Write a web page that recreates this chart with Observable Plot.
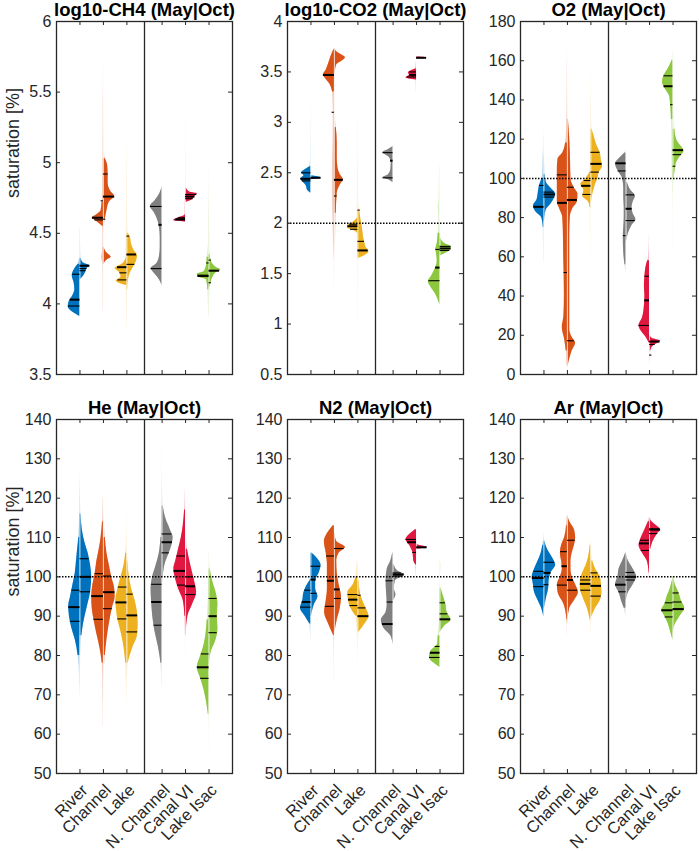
<!DOCTYPE html>
<html><head><meta charset="utf-8">
<script src="https://cdn.jsdelivr.net/npm/d3@7"></script>
<script src="https://cdn.jsdelivr.net/npm/@observablehq/plot@0.6"></script>
<style>
body{margin:0;background:#fff;}
#chart{position:relative;width:699px;height:851px;overflow:hidden;font-family:"Liberation Sans",Arial,Helvetica,sans-serif;}
#chart svg{position:absolute;}
</style></head><body><div id="chart"></div>
<script>
// ---------- categories ----------
const sites = ["River","Channel","Lake","N. Channel","Canal VI","Lake Isac"];
const sitePos = [1,2,3,4.5,5.5,6.5];
const dividerPos = 3.75;
const siteColors = ["#0072BD","#D95319","#EDB120","#808080","#E0173F","#8DC63F"];

// ---------- y axes ----------
const ch4Ticks = [3.5,4,4.5,5,5.5,6];
const co2Ticks = [0.5,1,1.5,2,2.5,3,3.5,4];
const o2Ticks = [0,20,40,60,80,100,120,140,160,180];
const gasTicks = [50,60,70,80,90,100,110,120,130,140];

// ---------- density profiles: [value, half-width] per site (May = left, Oct = right) ----------
const ch4May = [
 [[3.91,0],[3.94,0.3],[3.98,0.5],[4.02,0.45],[4.06,0.3],[4.1,0.22],[4.15,0.25],[4.2,0.33],[4.24,0.25],[4.28,0.08],[4.33,0.02]],
 [[3.95,0.01],[4.28,0.02],[4.31,0.06],[4.33,0.09],[4.36,0.05],[4.45,0.02],[4.55,0.04],[4.585,0.3],[4.61,0.47],[4.63,0.3],[4.66,0.1],[4.72,0.06],[4.8,0.03],[5.0,0.02],[5.4,0.01],[5.6,0]],
 [[3.83,0.005],[4.0,0.02],[4.13,0.03],[4.16,0.45],[4.19,0.25],[4.22,0.3],[4.25,0.5],[4.28,0.2],[4.32,0.05],[4.4,0.03],[4.6,0.02],[5.1,0.005]],
 [[4.13,0],[4.18,0.15],[4.22,0.35],[4.25,0.47],[4.28,0.25],[4.33,0.12],[4.4,0.08],[4.47,0.08],[4.55,0.12],[4.6,0.2],[4.65,0.35],[4.69,0.5],[4.73,0.3],[4.78,0.1],[4.83,0]],
 [[4.58,0.02],[4.59,0.5],[4.61,0.3],[4.62,0.1],[4.63,0.03],[4.7,0.02],[4.76,0.01]],
 [[3.9,0.01],[4.0,0.03],[4.1,0.05],[4.17,0.1],[4.19,0.45],[4.21,0.5],[4.23,0.2],[4.28,0.1],[4.33,0.08],[4.37,0.05],[4.45,0.02],[4.7,0.015],[4.97,0.005]]
];
const ch4Oct = [
 [[4.17,0],[4.19,0.12],[4.21,0.2],[4.23,0.25],[4.25,0.3],[4.27,0.42],[4.29,0.15],[4.32,0.05],[4.4,0.03],[4.54,0.01]],
 [[3.97,0.005],[4.28,0.02],[4.31,0.15],[4.33,0.33],[4.36,0.15],[4.4,0.03],[4.5,0.03],[4.6,0.08],[4.66,0.15],[4.72,0.25],[4.76,0.48],[4.8,0.3],[4.86,0.2],[4.92,0.2],[4.98,0.18],[5.03,0.08],[5.1,0.03],[5.4,0.02],[5.68,0.005]],
 [[3.83,0.01],[4.1,0.03],[4.2,0.1],[4.25,0.25],[4.3,0.4],[4.34,0.45],[4.38,0.3],[4.42,0.2],[4.47,0.15],[4.5,0.05],[4.6,0.03],[4.8,0.02],[5.15,0.005]],
 [],
 [[4.72,0.05],[4.74,0.3],[4.76,0.4],[4.78,0.5],[4.79,0.2],[4.82,0.03],[5.0,0.02],[5.3,0.005]],
 [[3.92,0.01],[4.05,0.03],[4.12,0.05],[4.16,0.1],[4.2,0.2],[4.22,0.3],[4.24,0.5],[4.26,0.3],[4.3,0.1],[4.35,0.05],[4.45,0.03],[4.6,0.02],[4.75,0.005]]
];
// quantile lines: first value = median (thick), rest thin
const ch4MayLines = [[4.03,3.985,4.21],[4.61,4.595,4.73],[4.26,4.17,4.22],[4.56,4.25,4.69],[4.60,4.595,4.61],[4.20,4.195,4.29]];
const ch4OctLines = [[4.27,4.235,4.25],[4.76,4.60,4.92],[4.35,4.28,4.48],[],[4.76,4.745,4.775],[4.235,4.15,4.31]];

const co2May = [
 [[2.3,0.02],[2.33,0.15],[2.37,0.2],[2.41,0.35],[2.44,0.43],[2.47,0.3],[2.5,0.4],[2.53,0.25],[2.56,0.05],[2.65,0.02],[3.15,0.005]],
 [[1.65,0.01],[1.9,0.05],[2.2,0.08],[2.5,0.09],[2.8,0.06],[3.1,0.05],[3.3,0.08],[3.38,0.2],[3.44,0.4],[3.47,0.47],[3.52,0.35],[3.58,0.25],[3.65,0.15],[3.72,0.03]],
 [[1.0,0.005],[1.5,0.01],[1.9,0.02],[1.93,0.2],[1.95,0.43],[1.98,0.43],[2.01,0.2],[2.05,0.03],[2.3,0.02],[2.6,0.02],[3.1,0.005]],
 [[2.4,0],[2.43,0.2],[2.45,0.43],[2.48,0.2],[2.53,0.1],[2.6,0.08],[2.65,0.15],[2.7,0.43],[2.73,0.2],[2.76,0]],
 [[3.3,0.01],[3.42,0.02],[3.44,0.45],[3.47,0.3],[3.49,0.35],[3.51,0.25],[3.53,0.05],[3.6,0.01]],
 [[1.2,0.02],[1.3,0.2],[1.37,0.4],[1.42,0.5],[1.48,0.35],[1.55,0.2],[1.62,0.12],[1.7,0.15],[1.74,0.18],[1.8,0.12],[1.9,0.08],[2.0,0.05],[2.1,0.06],[2.15,0.08],[2.25,0.04],[2.4,0.03],[2.57,0.01]]
];
const co2Oct = [
 [[2.43,0],[2.45,0.43],[2.47,0]],
 [[1.35,0.005],[1.6,0.02],[1.85,0.05],[2.1,0.08],[2.3,0.12],[2.38,0.25],[2.43,0.38],[2.48,0.25],[2.55,0.15],[2.65,0.12],[2.8,0.12],[2.95,0.08],[3.1,0.03],[3.3,0.03],[3.5,0.04],[3.57,0.1],[3.61,0.35],[3.64,0.47],[3.67,0.3],[3.7,0.1],[3.73,0.02]],
 [[1.0,0.005],[1.4,0.01],[1.65,0.02],[1.68,0.3],[1.72,0.47],[1.76,0.35],[1.8,0.3],[1.85,0.25],[1.9,0.22],[1.97,0.18],[2.05,0.12],[2.12,0.08],[2.2,0.03],[2.5,0.02],[2.6,0.005]],
 [],
 [[3.63,0],[3.64,0.43],[3.65,0]],
 [[1.68,0.05],[1.71,0.3],[1.74,0.47],[1.77,0.47],[1.8,0.2],[1.85,0.03],[2.0,0.01]]
];
const co2MayLines = [[2.44,2.42,2.5],[3.47,3.1],[1.97,1.94,1.99],[2.62,2.45,2.7],[3.47,3.45,3.5],[1.56,1.43,1.74]];
const co2OctLines = [[2.45],[2.43,2.27],[1.73,1.82,2.13],[],[3.64],[1.75,1.73,1.77]];

const o2May = [
 [[57,0.01],[65,0.02],[75,0.03],[80,0.1],[83,0.35],[86,0.45],[89,0.3],[92,0.25],[96,0.2],[100,0.08],[105,0.05],[110,0.04],[115,0.02],[125,0.005]],
 [[5,0.02],[12,0.05],[18,0.12],[24,0.22],[30,0.15],[40,0.13],[50,0.14],[60,0.16],[70,0.17],[80,0.2],[85,0.35],[88,0.43],[95,0.43],[105,0.43],[110,0.4],[113,0.2],[118,0.08],[125,0.04],[135,0.02],[160,0.005]],
 [[60,0.005],[75,0.02],[85,0.03],[88,0.1],[91,0.35],[94,0.3],[97,0.43],[100,0.2],[103,0.05],[110,0.02],[130,0.01],[157,0.005]],
 [[52,0.01],[56,0.05],[62,0.1],[70,0.12],[75,0.1],[80,0.08],[85,0.08],[90,0.1],[95,0.1],[100,0.15],[104,0.35],[107.5,0.45],[110,0.3],[113,0.05],[115,0]],
 [[16,0.02],[19,0.15],[22,0.35],[25,0.45],[29,0.3],[35,0.22],[40,0.2],[45,0.22],[50,0.2],[55,0.15],[58,0.08],[62,0.03],[72,0.005]],
 [[92,0.01],[100,0.03],[110,0.05],[120,0.05],[130,0.07],[137,0.1],[142,0.15],[146,0.35],[149,0.45],[152,0.4],[156,0.2],[160,0.05],[165,0.01]]
];
const o2Oct = [
 [[78,0.02],[84,0.1],[87,0.3],[90,0.45],[92,0.5],[95,0.3],[98,0.1],[102,0.05],[108,0.03],[112,0.01]],
 [[4,0.02],[8,0.1],[12,0.2],[16,0.35],[19,0.2],[23,0.1],[30,0.1],[50,0.1],[70,0.1],[80,0.12],[85,0.25],[88,0.42],[92,0.45],[95,0.3],[100,0.15],[110,0.13],[120,0.1],[130,0.04],[150,0.01],[165,0.005]],
 [[88,0.02],[93,0.1],[97,0.2],[100,0.3],[103,0.35],[106,0.5],[109,0.45],[113,0.4],[117,0.25],[121,0.15],[125,0.05],[135,0.02],[150,0.005]],
 [[68,0.02],[72,0.1],[76,0.25],[79,0.42],[82,0.3],[85,0.25],[88,0.3],[91,0.4],[94,0.2],[98,0.05],[102,0.02]],
 [[5,0.01],[9,0.05],[12,0.05],[15,0.2],[17,0.47],[18.5,0.1],[20,0.02]],
 [[65,0.005],[80,0.01],[95,0.02],[100,0.05],[105,0.1],[108,0.15],[111,0.3],[114,0.47],[117,0.3],[120,0.15],[125,0.08],[130,0.05],[135,0.03],[140,0.03],[150,0.01]]
];
const o2MayLines = [[85.5,96.4],[87.5,52,101.8],[96.2,91.8,98.9],[107.7,70.8,103.8],[37.8,25,50.1],[147,137.6,152.3]];
const o2OctLines = [[91.8,90.5,93],[89,17.2,95.5],[107.4,103.2,113.3],[84.5,78.5,91.6],[16.8,9.9,15.3],[114.4,106.2,112.1]];

const heMay = [
 [[70,0.01],[75,0.02],[80,0.08],[84,0.2],[87,0.35],[90,0.45],[92.5,0.48],[95,0.4],[98,0.3],[101,0.2],[104,0.15],[107,0.1],[110,0.05],[115,0.02],[120,0.01],[127,0.005]],
 [[62,0.01],[70,0.02],[78,0.05],[82,0.15],[86,0.3],[89,0.4],[92,0.48],[95,0.5],[98,0.45],[101,0.35],[104,0.28],[107,0.18],[110,0.1],[114,0.04],[120,0.01]],
 [[66,0.005],[72,0.02],[78,0.05],[82,0.12],[86,0.25],[89,0.38],[92,0.45],[94,0.47],[97,0.38],[100,0.25],[103,0.12],[106,0.05],[110,0.02],[117,0.005]],
 [[72,0.01],[78,0.05],[82,0.15],[86,0.3],[90,0.4],[94,0.45],[97,0.47],[100,0.4],[103,0.25],[106,0.12],[110,0.05],[115,0.02],[122,0.005]],
 [[85,0.01],[90,0.03],[94,0.1],[97,0.3],[100,0.45],[102,0.5],[104,0.42],[107,0.3],[110,0.18],[113,0.1],[117,0.04],[122,0.01]],
 [[56,0.005],[62,0.01],[65,0.03],[68,0.1],[71,0.2],[74,0.35],[77,0.5],[80,0.35],[83,0.2],[86,0.12],[89,0.08],[92,0.05],[96,0.02],[100,0.005]]
];
const heOct = [
 [[72,0.01],[80,0.03],[85,0.08],[88,0.15],[92,0.3],[96,0.45],[100,0.5],[103,0.45],[106,0.35],[109,0.2],[112,0.1],[116,0.04],[120,0.02],[125,0.005]],
 [[68,0.01],[75,0.03],[80,0.08],[84,0.15],[88,0.25],[92,0.38],[95,0.5],[97,0.48],[100,0.35],[103,0.25],[106,0.15],[110,0.08],[115,0.03],[120,0.01]],
 [[70,0.01],[78,0.05],[82,0.25],[85,0.45],[88,0.48],[91,0.45],[94,0.35],[97,0.2],[100,0.1],[104,0.04],[110,0.01]],
 [[90,0.01],[95,0.02],[100,0.05],[103,0.12],[106,0.3],[108,0.42],[110,0.47],[112,0.35],[115,0.15],[118,0.05],[122,0.02],[130,0.005],[135,0]],
 [[78,0.005],[85,0.02],[90,0.1],[93,0.3],[96,0.47],[98,0.42],[101,0.3],[104,0.18],[107,0.08],[110,0.03],[115,0.01],[124,0.005]],
 [[78,0.01],[81,0.1],[84,0.3],[87,0.38],[90,0.35],[93,0.38],[96,0.3],[99,0.15],[102,0.05],[106,0.01]]
];
const heMayLines = [[92.3,88.7,96.6],[95.1,89.2,100.8],[93.5,89.3,97.4],[93.6,87.7,98.1],[101.5,97.9,105.3],[77,74.2,80.4]];
const heOctLines = [[100,96.2,104.6],[96.1,91.9,100.2],[90.2,86,95.6],[108.8,106.1,110.9],[97.6,95.5,100],[90,85.8,94.5]];

const n2May = [
 [[84,0.01],[88,0.05],[90,0.25],[92,0.45],[94,0.35],[96,0.3],[97.5,0.2],[99,0.05],[101,0.01]],
 [[73,0.005],[80,0.01],[85,0.03],[88,0.25],[91,0.42],[94,0.35],[97,0.3],[100,0.3],[103,0.3],[106,0.35],[109,0.43],[111,0.3],[113,0.05]],
 [[77,0.005],[85,0.02],[90,0.08],[92,0.3],[94,0.4],[96,0.43],[98,0.2],[100,0.08],[102,0.05],[104,0.02]],
 [[83,0.01],[85,0.1],[87,0.4],[89,0.5],[91,0.3],[93,0.25],[96,0.28],[99,0.3],[102,0.25],[104,0.1],[106,0.02]],
 [[98,0.005],[103,0.03],[104,0.12],[106,0.15],[108,0.3],[109.5,0.45],[111,0.25],[112,0.05]],
 [[77,0.01],[78,0.25],[79.5,0.45],[81,0.4],[83,0.1],[85,0.08],[87,0.05],[90,0.01]]
];
const n2Oct = [
 [[90,0.02],[93,0.15],[95,0.3],[97,0.2],[99,0.2],[101,0.35],[103,0.43],[104.5,0.3],[106,0.05]],
 [[86,0.02],[89,0.12],[92,0.25],[95,0.3],[98,0.2],[101,0.12],[104,0.1],[106,0.2],[107.5,0.47],[109,0.1],[111,0.02]],
 [[82,0.01],[86,0.05],[88,0.3],[90,0.47],[92,0.35],[94,0.2],[96,0.1],[99,0.05],[103,0.01]],
 [[94,0.02],[95.5,0.12],[97,0.05],[99,0.1],[100.5,0.5],[101.5,0.2],[103,0.05]],
 [[107,0],[107.5,0.45],[108,0.1],[108.5,0]],
 [[86,0.02],[87.5,0.2],[89,0.47],[91,0.3],[93,0.25],[95,0.15],[97,0.05],[99,0.01],[101,0.03],[103,0.05],[104,0.01]]
];
const n2MayLines = [[93.6,92.3,96.6],[99,92.5,105.3],[94.2,92.7,95.5],[88,93.6,99],[108.8,106.2,109.5],[80.7,79.5,82.3]];
const n2OctLines = [[99.3,95.8,102.7],[96.8,94.5,107.2],[90,92.1,95.3],[100.6,100.2,101],[107.5],[89.2,90.6,93.4]];

const arMay = [
 [[90,0.01],[92,0.1],[94,0.25],[96,0.4],[98,0.45],[100,0.5],[102,0.4],[104,0.25],[106,0.12],[108,0.05],[110,0.01]],
 [[85,0.005],[89,0.02],[93,0.15],[96,0.4],[98,0.43],[100,0.3],[102,0.22],[104,0.25],[106,0.3],[108,0.25],[110,0.12],[113,0.04],[115,0.01]],
 [[85,0.005],[89,0.03],[92,0.15],[95,0.35],[97,0.45],[99,0.45],[101,0.35],[103,0.2],[105,0.1],[108,0.03],[110,0.005]],
 [[90,0.01],[92,0.08],[94,0.2],[96,0.3],[98,0.45],[100,0.35],[102,0.3],[104,0.15],[106,0.02]],
 [[98,0.005],[101,0.02],[104,0.1],[106,0.3],[108,0.45],[110,0.35],[112,0.2],[114,0.05],[115,0.01]],
 [[84,0.01],[86,0.1],[88,0.2],[90,0.35],[91.5,0.48],[93,0.35],[95,0.25],[97,0.12],[99,0.03],[100,0.005]]
];
const arOct = [
 [[92,0.02],[95,0.12],[97,0.2],[99,0.22],[101,0.3],[103,0.5],[105,0.35],[107,0.15],[109,0.04],[111,0.01]],
 [[88,0.01],[92,0.1],[94,0.3],[96,0.47],[98,0.35],[100,0.2],[102,0.15],[104,0.15],[106,0.2],[108,0.3],[110,0.35],[112,0.3],[114,0.1],[115.5,0.01]],
 [[86,0.005],[90,0.05],[92,0.2],[94,0.4],[96,0.47],[98,0.45],[100,0.4],[102,0.2],[104,0.08],[107,0.02]],
 [[94,0.01],[96,0.1],[98,0.3],[100,0.45],[102,0.3],[104,0.1],[106,0.01]],
 [[104,0.01],[107,0.05],[109,0.15],[111,0.35],[112,0.47],[113,0.3],[114,0.1],[115,0.01]],
 [[86,0.01],[88,0.1],[90,0.3],[92,0.5],[94,0.35],[96,0.25],[98,0.1],[100,0.02]]
];
const arMayLines = [[99.7,97.5,101.4],[102.7,97.9,106.4],[98.2,96.6,99.2],[98,96.2],[108.5,106.7,109.3],[91.5,89.8,93.4]];
const arOctLines = [[101,98,103.7],[99.2,96.6,109.3],[97.7,95.1,101],[100,99.2,101.1],[112,111,112.2],[91.8,93.6,95.9]];

// ---------- panels ----------
const panels = [
 {title:"log10-CH4 (May|Oct)", may:ch4May, oct:ch4Oct, mayLines:ch4MayLines, octLines:ch4OctLines, ticks:ch4Ticks, ref:null},
 {title:"log10-CO2 (May|Oct)", may:co2May, oct:co2Oct, mayLines:co2MayLines, octLines:co2OctLines, ticks:co2Ticks, ref:2},
 {title:"O2 (May|Oct)", may:o2May, oct:o2Oct, mayLines:o2MayLines, octLines:o2OctLines, ticks:o2Ticks, ref:100},
 {title:"He (May|Oct)", may:heMay, oct:heOct, mayLines:heMayLines, octLines:heOctLines, ticks:gasTicks, ref:100},
 {title:"N2 (May|Oct)", may:n2May, oct:n2Oct, mayLines:n2MayLines, octLines:n2OctLines, ticks:gasTicks, ref:100},
 {title:"Ar (May|Oct)", may:arMay, oct:arOct, mayLines:arMayLines, octLines:arOctLines, ticks:gasTicks, ref:100}
];

// ---------- rendering ----------
const frameLefts = [56, 287, 520];
const frameTops = [21, 419];
const frameHeights = [353, 354];
const FW = 176, ML = 50, MR = 4, MT = 22;
const SOLID = 0.1;
const ink = "#262626";

function widthAt(k, v) {
  for (let j = 0; j < k.length - 1; j++) {
    const [a, wa] = k[j], [b, wb] = k[j + 1];
    if (v >= a && v <= b) return b === a ? Math.max(wa, wb) : wa + (wb - wa) * (v - a) / (b - a);
  }
  return 0;
}

const root = document.getElementById("chart");
panels.forEach((p, pi) => {
  const row = Math.floor(pi / 3), col = pi % 3;
  const FH = frameHeights[row];
  const MB = row === 1 ? 78 : 4;
  const faint = [], solid = [], thick = [], thin = [], centers = [];
  sites.forEach((s, i) => {
    let lo = Infinity, hi = -Infinity;
    [[p.may[i], -1, p.mayLines[i], "m"], [p.oct[i], 1, p.octLines[i], "o"]].forEach(([k, sign, lines, tag]) => {
      const key = i + tag;
      k.forEach(([v, w], j) => {
        lo = Math.min(lo, v); hi = Math.max(hi, v);
        const xb = sitePos[i] + sign * w;
        faint.push({key, i, v, xa: sitePos[i], xb});
        const keep = w >= SOLID || (j > 0 && k[j-1][1] >= SOLID) || (j < k.length - 1 && k[j+1][1] >= SOLID);
        solid.push({key, i, v, xa: sitePos[i], xb: keep ? xb : NaN});
      });
      lines.forEach((v, j) => {
        const w = Math.max(widthAt(k, v), 0.1);
        (j === 0 ? thick : thin).push({v, xa: sitePos[i], xb: sitePos[i] + sign * w});
      });
    });
    if (lo < hi) centers.push({x: sitePos[i], lo, hi});
  });

  const marks = [
    Plot.areaX(faint, {y: "v", x1: "xa", x2: "xb", z: "key", fill: d => siteColors[d.i], fillOpacity: 0.28, curve: "monotone-y"}),
    Plot.areaX(solid, {y: "v", x1: "xa", x2: "xb", z: "key", fill: d => siteColors[d.i], fillOpacity: 1, curve: "monotone-y"}),
    Plot.ruleX(centers, {x: "x", y1: "lo", y2: "hi", stroke: "white", strokeWidth: 1, strokeOpacity: 0.75}),
    Plot.ruleY(thin, {y: "v", x1: "xa", x2: "xb", stroke: "black", strokeWidth: 1.1}),
    Plot.ruleY(thick, {y: "v", x1: "xa", x2: "xb", stroke: "black", strokeWidth: 2}),
  ];
  if (p.ref !== null) marks.push(Plot.ruleY([p.ref], {stroke: "black", strokeWidth: 1.5, strokeDasharray: "1.5,1.5"}));
  marks.push(
    Plot.ruleX([dividerPos], {stroke: ink, strokeWidth: 1.3}),
    Plot.frame({stroke: ink, strokeWidth: 1.3}),
    Plot.tickY(p.ticks, {y: d => d, stroke: ink, insetRight: FW - 4}),
    Plot.tickY(p.ticks, {y: d => d, stroke: ink, insetLeft: FW - 4}),
    Plot.tickX(sitePos, {x: d => d, stroke: ink, insetTop: FH - 4}),
    Plot.tickX(sitePos, {x: d => d, stroke: ink, insetBottom: FH - 4}),
    Plot.axisY({ticks: p.ticks, tickSize: 0, tickPadding: 5, fontSize: 16, fill: ink, tickFormat: d => String(d), label: null}),
    Plot.text([p.title], {frameAnchor: "top", dy: -11, lineAnchor: "middle", fontSize: 18.5, fontWeight: "bold", fill: "black"})
  );
  if (col === 0) marks.push(Plot.text(["saturation [%]"], {frameAnchor: "left", rotate: -90, dx: -43, fontSize: 18, fill: ink}));
  if (row === 1) marks.push(Plot.axisX({ticks: sitePos, tickSize: 0, tickPadding: 6, tickRotate: -45, fontSize: 16.5, fill: ink, label: null,
    dx: 5, dy: 8, tickFormat: d => sites[sitePos.indexOf(d)]}));

  const svg = Plot.plot({
    width: ML + FW + MR, height: MT + FH + MB,
    marginLeft: ML, marginRight: MR, marginTop: MT, marginBottom: MB,
    style: {background: "transparent", overflow: "visible", fontFamily: "'Liberation Sans', Arial, Helvetica, sans-serif"},
    x: {domain: [0, 7.5], label: null, axis: row === 1 ? undefined : null},
    y: {domain: [p.ticks[0], p.ticks[p.ticks.length - 1]], label: null},
    marks
  });
  svg.style.left = (frameLefts[col] - ML) + "px";
  svg.style.top = (frameTops[row] - MT) + "px";
  root.appendChild(svg);
});
</script></body></html>
